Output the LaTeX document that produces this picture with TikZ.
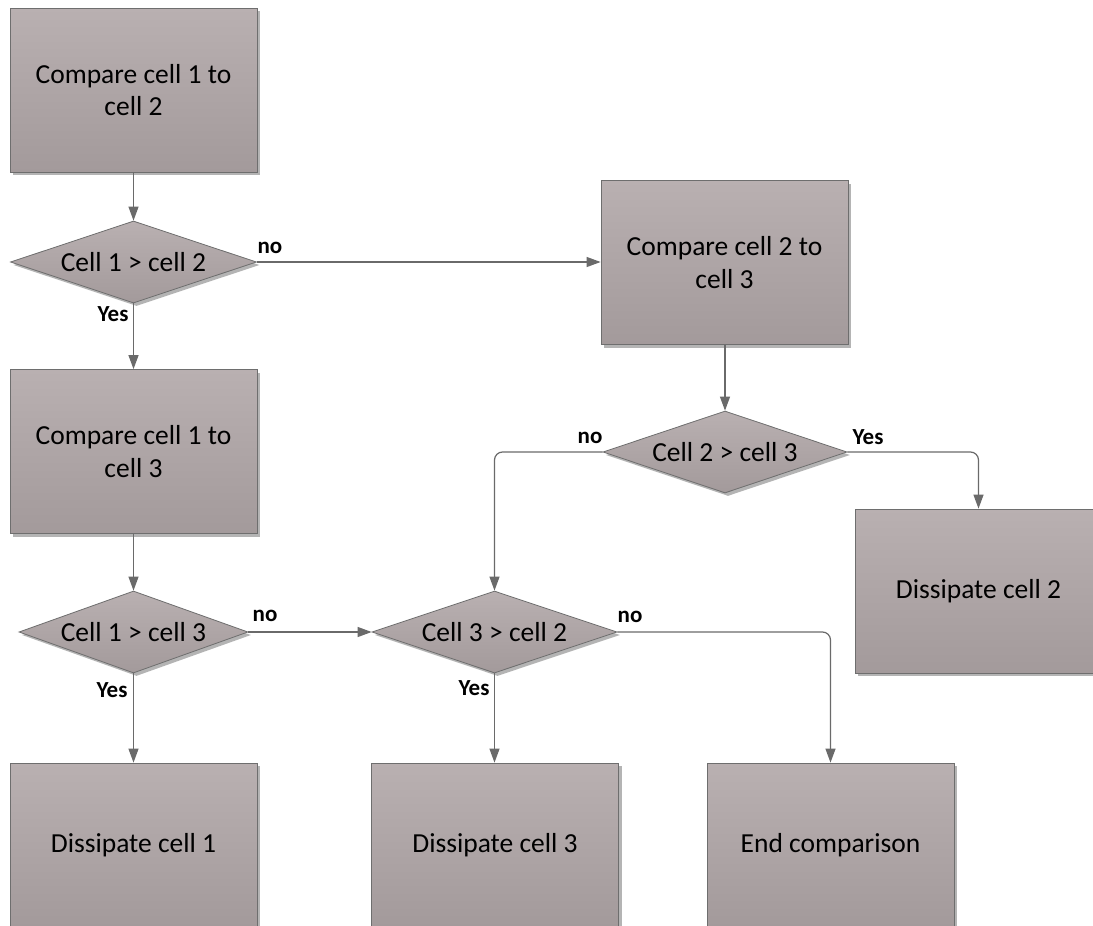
\documentclass[tikz,border=0pt]{standalone}
\usepackage{fontspec}
\setmainfont{Carlito}
\usetikzlibrary{shapes.geometric,arrows.meta,shadows}
\definecolor{boxtop}{HTML}{B9B0B1}
\definecolor{boxbot}{HTML}{A39A9B}
\definecolor{edgec}{HTML}{6E6E6E}
\definecolor{linec}{HTML}{6A6A6A}
\definecolor{shadowc}{HTML}{B4B4B4}
\tikzset{
  procbox/.style={rectangle, draw=edgec, line width=0.8pt, top color=boxtop, bottom color=boxbot,
    minimum width=247pt, minimum height=164pt, inner sep=0pt, align=center,
    font=\fontsize{27.5}{32.5}\selectfont,
    drop shadow={shadow xshift=3pt, shadow yshift=-3pt, fill=shadowc, opacity=1}},
  decbox/.style={diamond, draw=edgec, line width=0.8pt, top color=boxtop, bottom color=boxbot,
    minimum height=82pt, inner sep=0pt, font=\fontsize{27.5}{31}\selectfont,
    drop shadow={shadow xshift=3pt, shadow yshift=-3pt, fill=shadowc, opacity=1}},
  conn/.style={draw=linec, line width=1.2pt, rounded corners=8pt,
    -{Triangle[length=14pt,width=10pt]}},
  lbl/.style={font=\fontsize{23}{25}\selectfont\bfseries, inner sep=0pt}
}
\begin{document}
\begin{tikzpicture}[x=1pt,y=-1pt]
\clip (0,0) rectangle (1093,926);
\fill[white] (0,0) rectangle (1093,926);
% process boxes
\node[procbox] (a) at (133.5,90) {Compare cell 1 to\\cell 2};
\node[procbox] (b) at (133.5,451.5) {Compare cell 1 to\\cell 3};
\node[procbox] (c) at (724.5,262.5) {Compare cell 2 to\\cell 3};
\node[procbox] (e1) at (133.5,845) {Dissipate cell 1};
\node[procbox] (e3) at (495,845) {Dissipate cell 3};
\node[procbox] (end) at (830.5,845) {End comparison};
\node[procbox] (e2) at (978.5,591) {Dissipate cell 2};
% decisions
\node[decbox, minimum width=246pt] (d1) at (133.5,262) {\makebox[0pt]{Cell 1 > cell 2}};
\node[decbox, minimum width=244pt] (d2) at (725,452) {\makebox[0pt]{Cell 2 > cell 3}};
\node[decbox, minimum width=229pt] (d3) at (133.5,632) {\makebox[0pt]{Cell 1 > cell 3}};
\node[decbox, minimum width=245pt] (d4) at (494.5,632) {\makebox[0pt]{Cell 3 > cell 2}};
% connectors
\draw[conn] (a.south) -- (d1.north);
\draw[conn] (d1.east) -- (d1.east -| c.west);
\draw[conn] (d1.south) -- (b.north);
\draw[conn] (c.south -| d2.north) -- (d2.north);
\draw[conn] (d2.west) -| (d4.north);
\draw[conn] (d2.east) -| (e2.north);
\draw[conn] (b.south) -- (d3.north);
\draw[conn] (d3.east) -- (d4.west);
\draw[conn] (d3.south) -- (e1.north);
\draw[conn] (d4.south) -- (d4.south |- e3.north);
\draw[conn] (d4.east) -| (end.north);
% labels
\node[lbl] (l1) at (270,248) {no};
\node[lbl] (l2) at (113,314) {Yes};
\node[lbl] (l3) at (590,438) {no};
\node[lbl] (l4) at (868,437) {Yes};
\node[lbl] (l5) at (265,616) {no};
\node[lbl] (l6) at (112,690) {Yes};
\node[lbl] (l7) at (630,617) {no};
\node[lbl] (l8) at (474,688) {Yes};
\end{tikzpicture}
\end{document}
